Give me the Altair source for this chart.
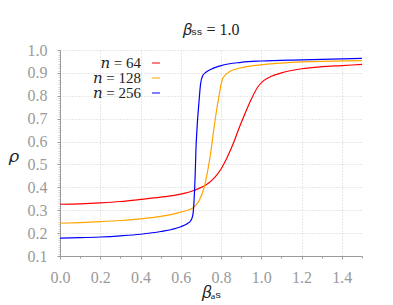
import altair as alt
import pandas as pd

# ---- data ----
series = ["n = 64", "n = 128", "n = 256"]
legend_labels = ["𝑛 = 64", "𝑛 = 128", "𝑛 = 256"]
colors = ["#ff0000", "#ffa500", "#0000ff"]

x_n64 = [0, 0.1, 0.2, 0.3, 0.4, 0.5, 0.6, 0.667, 0.74, 0.77, 0.80, 0.83, 0.86,
         0.89, 0.92, 0.95, 0.98, 1.01, 1.05, 1.1, 1.2, 1.3, 1.4, 1.5]
y_n64 = [0.326, 0.328, 0.332, 0.338, 0.347, 0.357, 0.370, 0.387, 0.42, 0.445,
         0.48, 0.53, 0.59, 0.66, 0.725, 0.785, 0.835, 0.865, 0.885, 0.90, 0.918,
         0.927, 0.932, 0.937]

x_n128 = [0, 0.1, 0.2, 0.3, 0.4, 0.5, 0.6, 0.66, 0.69, 0.716, 0.733, 0.75, 0.765,
          0.78, 0.79, 0.8, 0.81, 0.845, 0.91, 0.985, 1.1, 1.2, 1.35, 1.5]
y_n128 = [0.243, 0.246, 0.25, 0.255, 0.262, 0.273, 0.292, 0.31, 0.34, 0.40, 0.47,
          0.56, 0.66, 0.75, 0.80, 0.85, 0.879, 0.907, 0.924, 0.934, 0.943, 0.948,
          0.951, 0.954]

x_n256 = [0, 0.1, 0.2, 0.3, 0.4, 0.5, 0.6, 0.63, 0.65, 0.66, 0.665, 0.669, 0.672,
          0.675, 0.68, 0.69, 0.698, 0.708, 0.725, 0.745, 0.8, 0.9, 1.0, 1.2, 1.5]
y_n256 = [0.178, 0.180, 0.183, 0.188, 0.195, 0.207, 0.228, 0.24, 0.255, 0.28, 0.33,
          0.40, 0.47, 0.56, 0.65, 0.77, 0.85, 0.886, 0.903, 0.914, 0.932, 0.946,
          0.952, 0.957, 0.963]

x_major = [0.0, 0.2, 0.4, 0.6, 0.8, 1.0, 1.2, 1.4]
x_minor = [round(i * 0.1, 1) for i in range(16)]
y_major = [round(0.1 * i, 1) for i in range(1, 11)]
y_minor = [round(0.1 + 0.01 * i, 2) for i in range(91)]

rows = []
for name, xs, ys in zip(series, [x_n64, x_n128, x_n256], [y_n64, y_n128, y_n256]):
    for a, b in zip(xs, ys):
        rows.append({"series": name, "beta": a, "rho": b})
df = pd.DataFrame(rows)

FONT = "'Liberation Serif', 'DejaVu Serif', serif"
xscale = alt.Scale(domain=[0, 1.5], nice=False, zero=False)
yscale = alt.Scale(domain=[0.1, 1.0], nice=False, zero=False)

axis_common = dict(
    labelFont=FONT, labelFontSize=16, labelColor="#9a9a9a", labelFlush=False,
    labelOverlap=False,
    domainColor="#9a9a9a", tickColor="#9a9a9a", tickSize=3, labelPadding=10,
    grid=True, gridDash=[1, 2], gridColor="#c4c4c4", gridWidth=0.8,
    titleFont=FONT, titleFontSize=17, titleFontWeight="normal", titleColor="#222222",
    format=".1f",
)

lines = alt.Chart(df).mark_line(strokeWidth=1.2, interpolate="monotone").encode(
    x=alt.X("beta:Q", scale=xscale,
            axis=alt.Axis(values=x_major, orient="bottom", title="𝛽ₐₛ",
                          titleX=151, titleY=36, titleBaseline="middle",
                          titleAlign="center", **axis_common)),
    y=alt.Y("rho:Q", scale=yscale,
            axis=alt.Axis(values=y_major, orient="left", title="𝜌", titleAngle=0,
                          titleX=-47, titleY=106, titleBaseline="middle",
                          titleAlign="center", **axis_common)),
    color=alt.Color("series:N", scale=alt.Scale(domain=series, range=colors), legend=None),
    detail="series:N",
)

minor = alt.Chart(df).mark_line(opacity=0).encode(
    x=alt.X("beta:Q", scale=xscale,
            axis=alt.Axis(values=x_minor, orient="bottom", labels=False, domain=False,
                          grid=False, tickSize=2, tickColor="#9a9a9a", title=None)),
    y=alt.Y("rho:Q", scale=yscale,
            axis=alt.Axis(values=y_minor, orient="left", labels=False, domain=False,
                          grid=False, tickSize=2, tickColor="#b0b0b0", tickWidth=0.6,
                          title=None)),
    detail="series:N",
)

layers = [minor, lines]
for i, (lab, col) in enumerate(zip(legend_labels, colors)):
    ldf = pd.DataFrame({"label": [lab]})
    layers.append(
        alt.Chart(ldf).mark_text(align="right", baseline="middle", font=FONT,
                                 fontSize=15, color="#222222").encode(
            x=alt.value(81), y=alt.value(13 + 15 * i), text="label:N")
    )
    layers.append(
        alt.Chart(ldf).mark_rule(color=col, strokeWidth=1).encode(
            x=alt.value(92), x2=alt.value(100), y=alt.value(13 + 15 * i))
    )

chart = alt.layer(*layers).resolve_axis(x="independent", y="independent").properties(
    width=302, height=206,
    autosize=alt.AutoSizeParams(type="none"),
    padding={"left": 52, "top": 42, "right": 23, "bottom": 47},
    title=alt.TitleParams("𝛽ₛₛ = 1.0", font=FONT, fontSize=16, fontWeight="normal",
                          color="#222222", offset=4, anchor="middle"),
).configure_view(stroke=None)

chart.save("out.html", embed_options={"renderer": "svg", "actions": False})
